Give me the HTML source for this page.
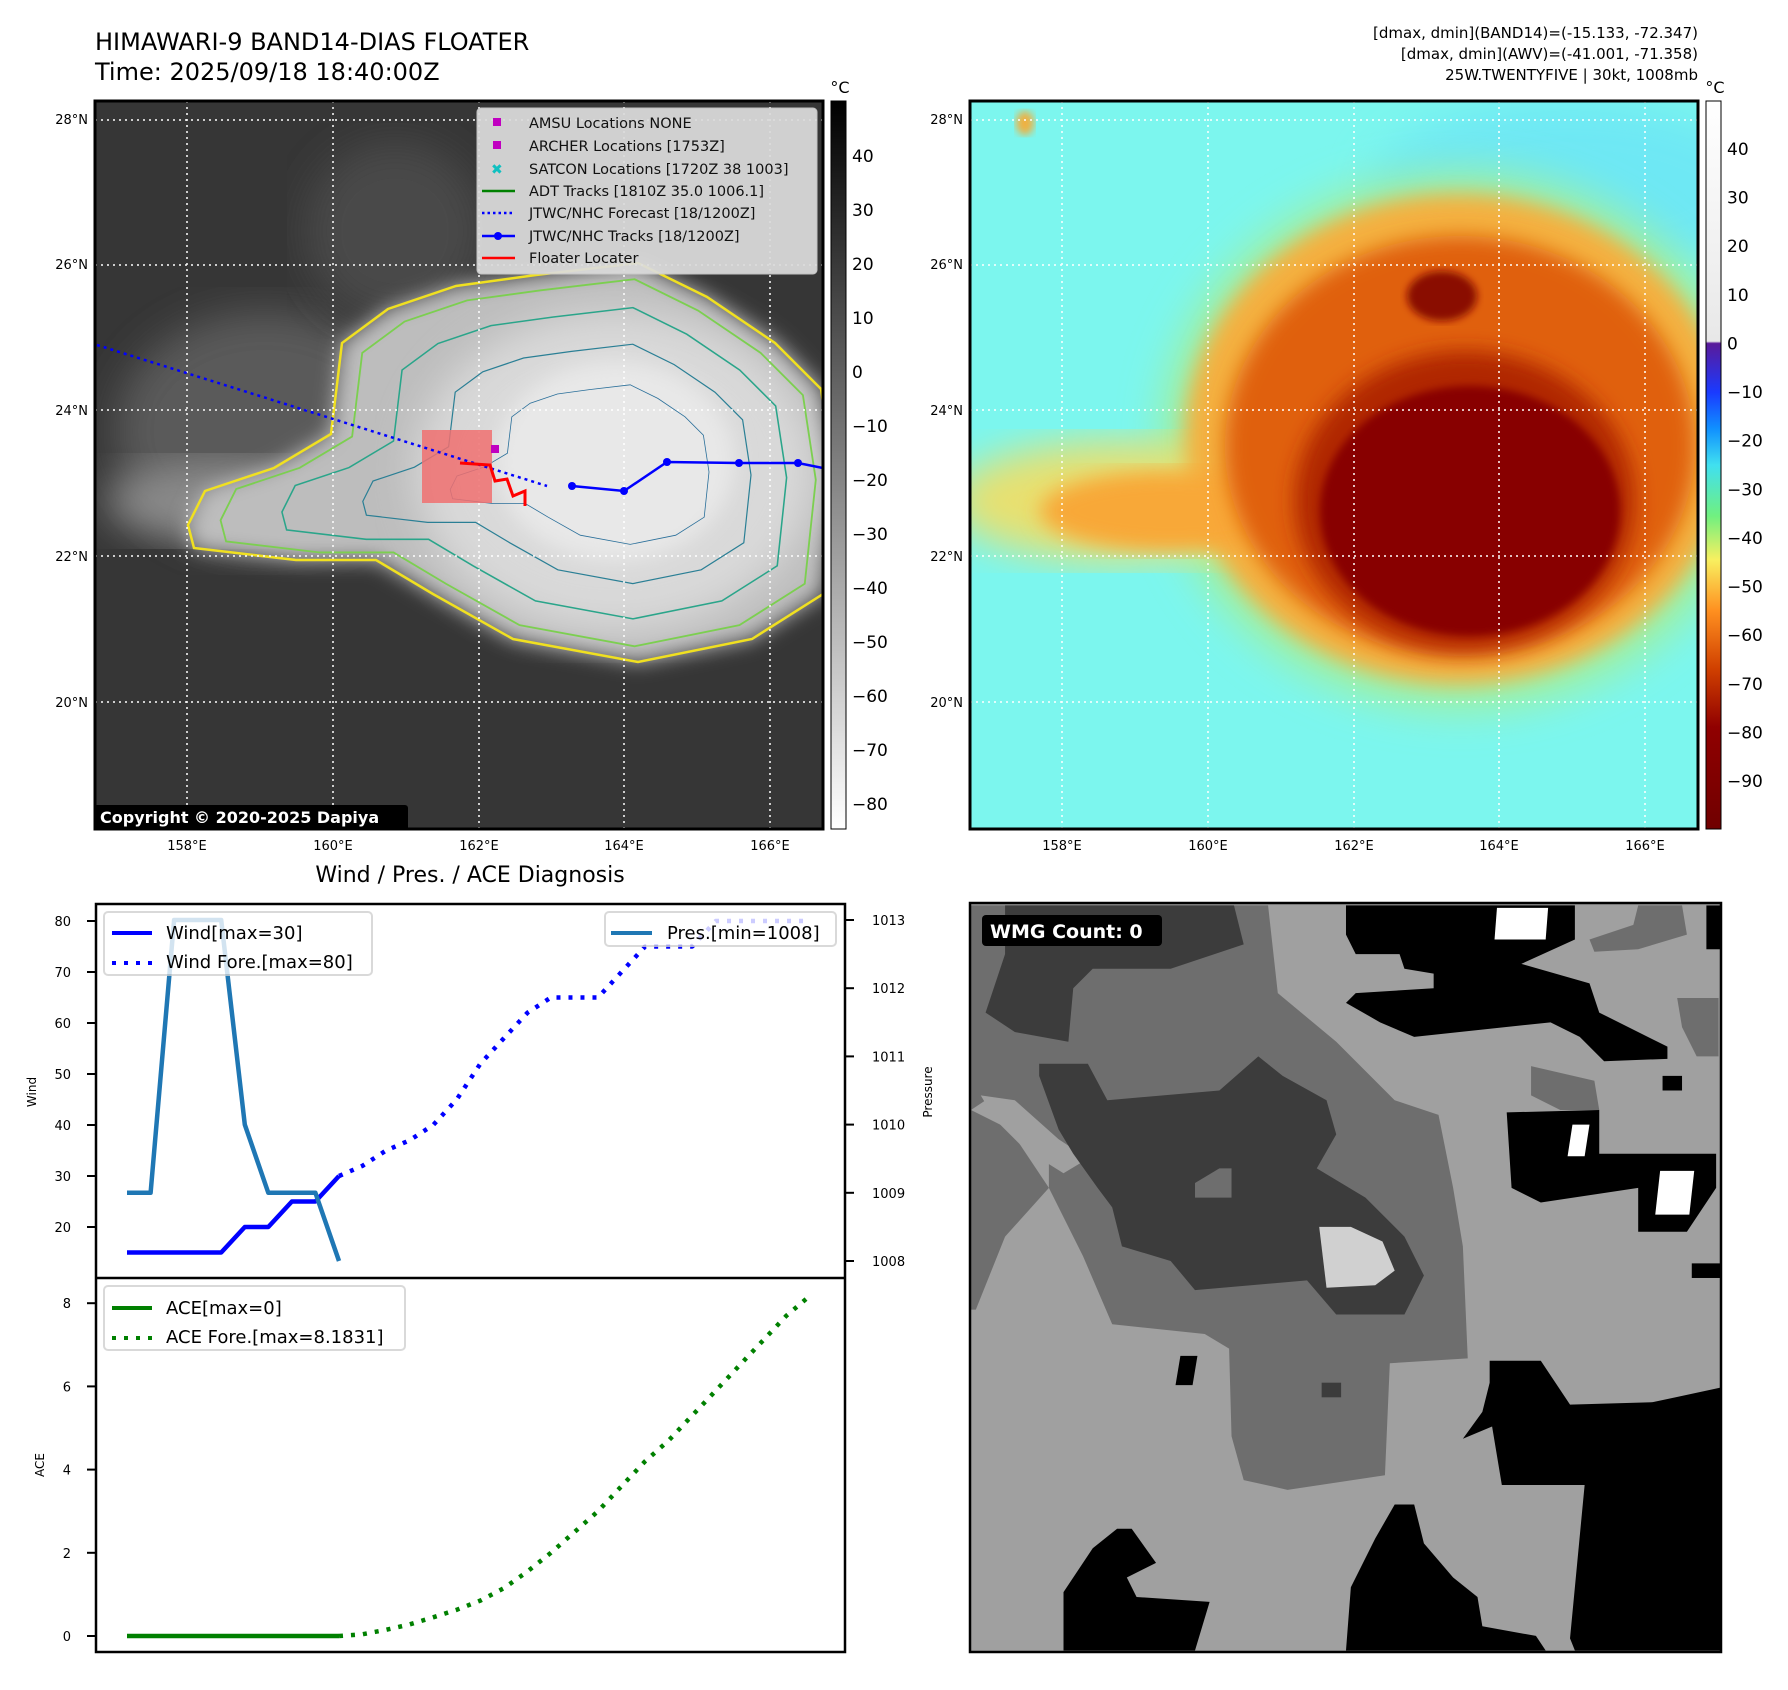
<!DOCTYPE html>
<html><head><meta charset="utf-8"><style>
html,body{margin:0;padding:0;background:#fff;}
svg{display:block;font-family:"DejaVu Sans","Liberation Sans",sans-serif;}
</style></head><body>
<svg id="root" width="1788" height="1690" viewBox="0 0 1788 1690" xmlns="http://www.w3.org/2000/svg">
<defs>
<filter id="b4"><feGaussianBlur stdDeviation="4"/></filter>
<filter id="b10"><feGaussianBlur stdDeviation="10"/></filter>
<filter id="b20"><feGaussianBlur stdDeviation="20"/></filter>
<linearGradient id="gcb" x1="0" y1="0" x2="0" y2="1"><stop offset="0" stop-color="#000"/><stop offset="1" stop-color="#fff"/></linearGradient>
<linearGradient id="ccb" x1="0" y1="0" x2="0" y2="1">
<stop offset="0" stop-color="#ffffff"/><stop offset="0.33" stop-color="#e8e8e8"/>
<stop offset="0.333" stop-color="#5a1a9a"/><stop offset="0.4" stop-color="#1a3aff"/><stop offset="0.45" stop-color="#1090ff"/>
<stop offset="0.5" stop-color="#40e0f0"/><stop offset="0.57" stop-color="#70f080"/><stop offset="0.63" stop-color="#f8f060"/>
<stop offset="0.7" stop-color="#ff9020"/><stop offset="0.78" stop-color="#d04000"/><stop offset="0.86" stop-color="#900000"/><stop offset="1" stop-color="#700000"/></linearGradient>
<path id="cloudYel" d="M93,424 L110,390 L179,367 L236,333 L247,242 L293,208 L361,185 L441,174 L543,162 L612,196 L680,242 L726,288 L740,380 L728,493 L657,538 L543,561 L418,538 L338,493 L281,459 L201,459 L99,447 Z"/>
</defs>

<text x="95" y="50" font-size="24">HIMAWARI-9 BAND14-DIAS FLOATER</text>
<text x="95" y="80" font-size="24">Time: 2025/09/18 18:40:00Z</text>
<g font-size="15" text-anchor="end">
<text x="1698" y="38">[dmax, dmin](BAND14)=(-15.133, -72.347)</text>
<text x="1698" y="59">[dmax, dmin](AWV)=(-41.001, -71.358)</text>
<text x="1698" y="80">25W.TWENTYFIVE | 30kt, 1008mb</text>
</g>

<svg x="95" y="101" width="728" height="728" viewBox="0 0 728 728">
<rect width="728" height="728" fill="#363636"/>
<ellipse cx="170" cy="330" rx="150" ry="120" fill="#5a5a5a" filter="url(#b20)"/>
<ellipse cx="120" cy="400" rx="110" ry="40" fill="#8a8a8a" filter="url(#b20)"/>
<ellipse cx="300" cy="130" rx="90" ry="90" fill="#4a4a4a" filter="url(#b20)"/>
<use href="#cloudYel" fill="#bdbdbd" filter="url(#b10)"/>
<ellipse cx="520" cy="370" rx="200" ry="160" fill="#d9d9d9" filter="url(#b20)"/>
<ellipse cx="520" cy="360" rx="120" ry="100" fill="#e8e8e8" filter="url(#b10)"/>
<use href="#cloudYel" fill="none" stroke="#f0e020" stroke-width="2.5"/>
<use href="#cloudYel" fill="none" stroke="#7ccf50" stroke-width="2" transform="translate(500,365) scale(0.92) translate(-500,-365)"/>
<use href="#cloudYel" fill="none" stroke="#2aa58a" stroke-width="2" transform="translate(520,365) scale(0.78) translate(-520,-365)"/>
<use href="#cloudYel" fill="none" stroke="#2a7f95" stroke-width="2" transform="translate(530,365) scale(0.6) translate(-530,-365)"/>
<use href="#cloudYel" fill="none" stroke="#2a6f9a" stroke-width="2" transform="translate(530,365) scale(0.4) translate(-530,-365)"/>
<g stroke="#fff" stroke-width="1.5" stroke-dasharray="2 4">
<line x1="92" y1="0" x2="92" y2="728"/><line x1="238" y1="0" x2="238" y2="728"/><line x1="384" y1="0" x2="384" y2="728"/><line x1="529" y1="0" x2="529" y2="728"/><line x1="675" y1="0" x2="675" y2="728"/>
<line x1="0" y1="19" x2="728" y2="19"/><line x1="0" y1="164" x2="728" y2="164"/><line x1="0" y1="309" x2="728" y2="309"/><line x1="0" y1="455" x2="728" y2="455"/><line x1="0" y1="601" x2="728" y2="601"/>
</g>
<rect x="327" y="329" width="70" height="73" fill="#f07070" opacity="0.85"/>
<line x1="2" y1="244" x2="452" y2="385" stroke="#0000ff" stroke-width="2.5" stroke-dasharray="3 4"/>
<polyline points="477,385 529,390 572,361 644,362 703,362 728,367" fill="none" stroke="#0000ff" stroke-width="2.5"/>
<g fill="#0000ff"><circle cx="477" cy="385" r="4"/><circle cx="529" cy="390" r="4"/><circle cx="572" cy="361" r="4"/><circle cx="644" cy="362" r="4"/><circle cx="703" cy="362" r="4"/></g>
<polyline points="365,362 395,364 400,380 412,378 418,395 430,390 430,405" fill="none" stroke="#ff0000" stroke-width="3"/>
<rect x="396" y="344" width="8" height="8" fill="#c000c0"/>
<g>
<rect x="382" y="7" width="340" height="166" rx="4" fill="#dcdcdc" opacity="0.93" stroke="#ccc"/>
<g font-size="14.5" fill="#111">
<rect x="398" y="17" width="8" height="8" fill="#c000c0"/><text x="434" y="27">AMSU Locations NONE</text>
<rect x="398" y="40" width="8" height="8" fill="#c000c0"/><text x="434" y="50">ARCHER Locations [1753Z]</text>
<text x="396" y="73" fill="#10c0c0" font-weight="bold" font-size="14">✖</text><text x="434" y="73">SATCON Locations [1720Z 38 1003]</text>
<line x1="387" y1="90" x2="420" y2="90" stroke="#008000" stroke-width="2.5"/><text x="434" y="95">ADT Tracks [1810Z 35.0 1006.1]</text>
<line x1="387" y1="112" x2="420" y2="112" stroke="#0000ff" stroke-width="2.5" stroke-dasharray="2.5 3"/><text x="434" y="117">JTWC/NHC Forecast [18/1200Z]</text>
<line x1="387" y1="135" x2="420" y2="135" stroke="#0000ff" stroke-width="2.5"/><circle cx="403" cy="135" r="4" fill="#0000ff"/><text x="434" y="140">JTWC/NHC Tracks [18/1200Z]</text>
<line x1="387" y1="157" x2="420" y2="157" stroke="#ff0000" stroke-width="2.5"/><text x="434" y="162">Floater Locater</text>
</g></g>
<rect x="-2" y="704" width="315" height="26" rx="3" fill="#000"/>
<text x="5" y="722" font-size="16" font-weight="bold" fill="#fff">Copyright © 2020-2025 Dapiya</text>
</svg>
<rect x="95" y="101" width="728" height="728" fill="none" stroke="#000" stroke-width="3"/>

<svg x="970" y="101" width="728" height="728" viewBox="0 0 728 728">
<rect width="728" height="728" fill="#7cf6ee"/>
<ellipse cx="600" cy="90" rx="200" ry="90" fill="#6ee8f4" filter="url(#b20)"/>
<ellipse cx="490" cy="340" rx="300" ry="270" fill="#a0f0a0" filter="url(#b20)"/>
<ellipse cx="150" cy="400" rx="170" ry="60" fill="#e8e070" filter="url(#b20)"/>
<ellipse cx="488" cy="338" rx="273" ry="245" fill="#f4b040" filter="url(#b10)"/>
<ellipse cx="200" cy="410" rx="130" ry="40" fill="#f8a838" filter="url(#b10)"/>
<ellipse cx="490" cy="345" rx="235" ry="210" fill="#e06010" filter="url(#b10)"/>
<ellipse cx="495" cy="400" rx="170" ry="150" fill="#b02800" filter="url(#b10)"/>
<ellipse cx="500" cy="410" rx="150" ry="125" fill="#880000" filter="url(#b4)"/>
<ellipse cx="472" cy="195" rx="35" ry="25" fill="#8a1000" filter="url(#b4)"/>
<ellipse cx="55" cy="22" rx="9" ry="12" fill="#f0b040" filter="url(#b4)"/>
<g stroke="#fff" stroke-width="1.5" stroke-dasharray="2 4">
<line x1="92" y1="0" x2="92" y2="728"/><line x1="238" y1="0" x2="238" y2="728"/><line x1="384" y1="0" x2="384" y2="728"/><line x1="529" y1="0" x2="529" y2="728"/><line x1="675" y1="0" x2="675" y2="728"/>
<line x1="0" y1="19" x2="728" y2="19"/><line x1="0" y1="164" x2="728" y2="164"/><line x1="0" y1="309" x2="728" y2="309"/><line x1="0" y1="455" x2="728" y2="455"/><line x1="0" y1="601" x2="728" y2="601"/>
</g>
</svg>
<rect x="970" y="101" width="728" height="728" fill="none" stroke="#000" stroke-width="3"/>

<g font-size="13" text-anchor="end">
<text x="88" y="124">28°N</text><text x="88" y="269">26°N</text><text x="88" y="415">24°N</text><text x="88" y="561">22°N</text><text x="88" y="707">20°N</text>
<text x="963" y="124">28°N</text><text x="963" y="269">26°N</text><text x="963" y="415">24°N</text><text x="963" y="561">22°N</text><text x="963" y="707">20°N</text>
</g>
<g font-size="13" text-anchor="middle">
<text x="187" y="850">158°E</text><text x="333" y="850">160°E</text><text x="479" y="850">162°E</text><text x="624" y="850">164°E</text><text x="770" y="850">166°E</text>
<text x="1062" y="850">158°E</text><text x="1208" y="850">160°E</text><text x="1354" y="850">162°E</text><text x="1499" y="850">164°E</text><text x="1645" y="850">166°E</text>
</g>

<rect x="831" y="101" width="15" height="728" fill="url(#gcb)" stroke="#000" stroke-width="1"/>
<rect x="1706" y="101" width="15" height="728" fill="url(#ccb)" stroke="#000" stroke-width="1"/>
<text x="840" y="93" font-size="16" text-anchor="middle">°C</text>
<text x="1715" y="93" font-size="16" text-anchor="middle">°C</text>
<g id="cb1ticks" font-size="17"></g>
<g id="cb2ticks" font-size="17"></g>

<text x="470" y="882" font-size="22" text-anchor="middle">Wind / Pres. / ACE Diagnosis</text>
<g id="chart"></g>
<rect x="96" y="904" width="749" height="748" fill="none" stroke="#000" stroke-width="2.5"/>
<line x1="96" y1="1278" x2="845" y2="1278" stroke="#000" stroke-width="2.5"/>
<text transform="translate(36,1092) rotate(-90)" font-size="12" text-anchor="middle">Wind</text>
<text transform="translate(932,1092) rotate(-90)" font-size="12" text-anchor="middle">Pressure</text>
<text transform="translate(44,1465) rotate(-90)" font-size="12" text-anchor="middle">ACE</text>

<g>
<rect x="104" y="912" width="268" height="63" rx="4" fill="#fff" opacity="0.8" stroke="#d0d0d0" stroke-width="2"/>
<line x1="112" y1="933" x2="152" y2="933" stroke="#0000ff" stroke-width="4"/>
<line x1="112" y1="963" x2="152" y2="963" stroke="#0000ff" stroke-width="4" stroke-dasharray="4 8"/>
<text x="166" y="939" font-size="18">Wind[max=30]</text>
<text x="166" y="968" font-size="18">Wind Fore.[max=80]</text>
</g>
<g>
<rect x="605" y="912" width="231" height="34" rx="4" fill="#fff" opacity="0.8" stroke="#d0d0d0" stroke-width="2"/>
<line x1="611" y1="933" x2="652" y2="933" stroke="#1f77b4" stroke-width="4"/>
<text x="667" y="939" font-size="18">Pres.[min=1008]</text>
</g>
<g>
<rect x="104" y="1286" width="301" height="64" rx="4" fill="#fff" opacity="0.8" stroke="#d0d0d0" stroke-width="2"/>
<line x1="112" y1="1308" x2="152" y2="1308" stroke="#008000" stroke-width="4"/>
<line x1="112" y1="1338" x2="152" y2="1338" stroke="#008000" stroke-width="4" stroke-dasharray="4 8"/>
<text x="166" y="1314" font-size="18">ACE[max=0]</text>
<text x="166" y="1343" font-size="18">ACE Fore.[max=8.1831]</text>
</g>

<svg x="970" y="903" width="751" height="749" viewBox="8 15 1542 1538" preserveAspectRatio="none">
<rect x="0" y="0" width="1560" height="1560" fill="#a0a0a0"/>
<g fill="#6e6e6e">
<polygon points="10,20 620,20 640,200 760,300 880,420 970,450 1000,600 1020,720 1030,950 870,960 860,1190 660,1220 570,1200 545,1110 540,930 490,900 300,880 240,740 170,600 170,540 90,460 40,420 10,440"/>
<polygon points="10,440 90,480 170,600 80,700 20,850 10,850"/>
<polygon points="1160,350 1290,380 1300,440 1220,440 1160,410"/>
<polygon points="1460,210 1545,210 1545,330 1500,330 1470,270"/>
<polygon points="1280,90 1370,60 1380,20 1470,20 1480,80 1380,110 1290,115"/>
</g>
<polygon fill="#a0a0a0" points="30,410 100,420 190,500 250,540 200,570 120,520 60,460"/>
<g fill="#3c3c3c">
<polygon points="80,20 550,20 570,100 420,150 260,150 220,190 210,300 100,280 40,240 80,120"/>
<polygon points="150,345 250,345 290,420 520,400 600,330 650,370 740,420 760,490 720,560 820,620 900,700 940,780 900,860 760,860 700,790 470,810 420,750 320,720 300,640 270,600 220,530 190,480 150,370"/>
<rect x="730" y="1000" width="40" height="30"/>
</g>
<polygon fill="#6e6e6e" points="470,590 520,560 545,560 545,620 470,620"/>
<polygon fill="#d0d0d0" points="725,680 790,680 855,710 880,770 840,800 740,805"/>
<g fill="#000">
<polygon points="780,20 1250,20 1250,90 1140,140 1280,180 1300,240 1440,310 1440,335 1310,340 1260,290 1200,260 920,290 850,260 780,220 800,200 960,190 960,160 900,150 890,120 800,120 780,80"/>
<polygon points="1110,445 1300,440 1300,530 1540,530 1540,600 1480,690 1380,690 1380,600 1180,630 1120,600"/>
<rect x="1430" y="370" width="40" height="30"/>
<rect x="1490" y="755" width="60" height="30"/>
<rect x="1520" y="20" width="30" height="90"/>
<polygon points="1075,955 1180,955 1240,1045 1410,1040 1550,1010 1550,1550 1250,1550 1240,1525 1270,1210 1100,1210 1080,1090 1020,1115 1060,1060 1075,1000"/>
<polygon points="200,1550 200,1430 260,1340 310,1300 340,1300 390,1370 330,1400 350,1440 500,1450 470,1550"/>
<polygon points="780,1550 790,1420 840,1320 880,1250 920,1250 940,1330 1000,1400 1050,1440 1060,1500 1170,1520 1190,1550"/>
<polygon points="440,945 475,945 465,1005 430,1005"/>
</g>
<g fill="#fff">
<polygon points="1090,25 1195,25 1190,90 1085,90"/>
<polygon points="1245,470 1280,470 1270,535 1235,535"/>
<polygon points="1425,565 1495,565 1485,655 1415,655"/>
</g>
</svg>
<rect x="970" y="903" width="751" height="749" fill="none" stroke="#000" stroke-width="2.5"/>
<rect x="982" y="915" width="180" height="31" rx="4" fill="#000"/>
<text x="990" y="938" font-size="19" font-weight="bold" fill="#fff">WMG Count: 0</text>
</svg>

<script>
var windIdx = [0,1,2,3,4,5,6,7,8,9];
var windObs = [15,15,15,15,15,20,20,25,25,30];
var presObs = [1009,1009,1013,1013,1013,1010,1009,1009,1009,1008];
var aceObs = [0,0,0,0,0,0,0,0,0,0];
var foreIdx = [9,10,11,12,13,14,15,16,17,18,19,20,21,22,23,24,25,26,27,28,29];
var windFore = [30,32,35,37,40,45,52,57,62,65,65,65,70,75,75,75,80,80,80,80,80];
var aceFore = [0,0.04,0.15,0.28,0.45,0.63,0.85,1.15,1.55,2.0,2.5,3.0,3.6,4.2,4.7,5.3,5.9,6.5,7.1,7.7,8.18];
var windTicks = [20,30,40,50,60,70,80];
var presTicks = [1008,1009,1010,1011,1012,1013];
var aceTicks = [0,2,4,6,8];
var cb1Ticks = [40,30,20,10,0,-10,-20,-30,-40,-50,-60,-70,-80];
var cb2Ticks = [40,30,20,10,0,-10,-20,-30,-40,-50,-60,-70,-80,-90];

var NS = 'http://www.w3.org/2000/svg';
function xs(i){ return 127 + i*23.55; }
function yw(v){ return 921 + (80 - v)*5.1; }
function yp(p){ return 1261 - (p - 1008)*68.2; }
function ya(a){ return 1636 - a*41.6; }
function yc1(v){ return 156 + (40 - v)*5.4; }
function yc2(v){ return 149 + (40 - v)*4.862; }
function mk(tag, attrs, parent){
  var e = document.createElementNS(NS, tag);
  for (var k in attrs) e.setAttribute(k, attrs[k]);
  parent.appendChild(e); return e;
}
var chart = document.getElementById('chart');
function poly(ix, vals, fy, color, dash, name){
  var pts = ix.map(function(i,k){ return xs(i).toFixed(1)+','+fy(vals[k]).toFixed(1); }).join(' ');
  var a = {points: pts, fill: 'none', stroke: color, 'stroke-width': 4.5, 'stroke-linejoin': 'round'};
  if (dash) a['stroke-dasharray'] = dash;
  var p = mk('polyline', a, chart);
  
  
}
windTicks.forEach(function(v){
  var t = mk('line', {x1: 87, x2: 96, y1: yw(v), y2: yw(v), stroke: '#000', 'stroke-width': 2}, chart);
  
  
  var l = mk('text', {x: 71, y: yw(v)+5, 'font-size': 13, 'text-anchor': 'end'}, chart);
  l.textContent = v;
  
  
});
presTicks.forEach(function(v){
  var t = mk('line', {x1: 845, x2: 854, y1: yp(v), y2: yp(v), stroke: '#000', 'stroke-width': 2}, chart);
  
  
  var l = mk('text', {x: 872, y: yp(v)+5, 'font-size': 13}, chart);
  l.textContent = v;
  
  
});
aceTicks.forEach(function(v){
  var t = mk('line', {x1: 87, x2: 96, y1: ya(v), y2: ya(v), stroke: '#000', 'stroke-width': 2}, chart);
  
  
  var l = mk('text', {x: 71, y: ya(v)+5, 'font-size': 13, 'text-anchor': 'end'}, chart);
  l.textContent = v;
  
  
});
poly(foreIdx, windFore, yw, '#0000ff', '4 8', 'wind-forecast-line');
poly(windIdx, windObs, yw, '#0000ff', null, 'wind-line');
poly(windIdx, presObs, yp, '#1f77b4', null, 'pressure-line');
poly(foreIdx, aceFore, ya, '#008000', '4 8', 'ace-forecast-line');
poly(windIdx, aceObs, ya, '#008000', null, 'ace-line');

var g1 = document.getElementById('cb1ticks');
cb1Ticks.forEach(function(v){
  var t = mk('text', {x: 852, y: yc1(v)+6}, g1);
  t.textContent = v < 0 ? '\u2212' + (-v) : v;
  
  
});
var g2 = document.getElementById('cb2ticks');
cb2Ticks.forEach(function(v){
  var t = mk('text', {x: 1727, y: yc2(v)+6}, g2);
  t.textContent = v < 0 ? '\u2212' + (-v) : v;
  
  
});
</script>
</body></html>
